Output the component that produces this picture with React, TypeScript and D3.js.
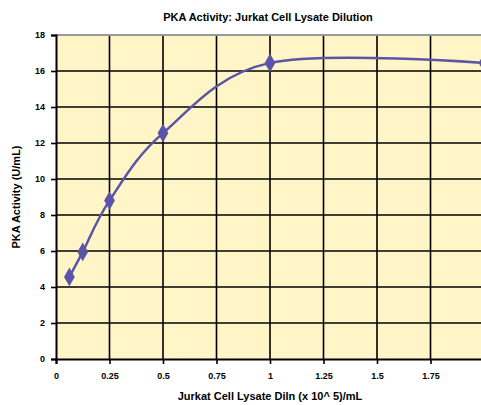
import React, { useEffect, useRef } from "react";
import * as d3 from "d3";

const dilutions = [0.0625, 0.125, 0.25, 0.5, 1, 2];
const activity = [4.56, 5.95, 8.8, 12.55, 16.45, 16.45];
const xTicks = [0, 0.25, 0.5, 0.75, 1, 1.25, 1.5, 1.75, 2];
const yTicks = [0, 2, 4, 6, 8, 10, 12, 14, 16, 18];

const App = () => {
  const svgRef = useRef<SVGSVGElement>(null);

  useEffect(() => {
    const width = 481;
    const height = 405;
    const margin = { top: 35, left: 56, bottom: 46 };
    const x = d3.scaleLinear().domain([0, 2]).range([margin.left, margin.left + 428]);
    const y = d3.scaleLinear().domain([0, 18]).range([height - margin.bottom, margin.top]);

    const svg = d3.select(svgRef.current).attr("width", width).attr("height", height);
    svg.selectAll("*").remove();

    const font = "Arial, 'Liberation Sans', sans-serif";

    // plot background
    svg.append("rect")
      .attr("x", x(0)).attr("y", y(18))
      .attr("width", x(2) - x(0)).attr("height", y(0) - y(18))
      .attr("fill", "#fff5c6");

    // grid
    svg.append("g").selectAll("line").data(xTicks.slice(1)).enter().append("line")
      .attr("x1", (d) => x(d)).attr("x2", (d) => x(d))
      .attr("y1", y(18)).attr("y2", y(0))
      .attr("stroke", "#000").attr("stroke-width", 1.6);
    svg.append("g").selectAll("line").data(yTicks.slice(1)).enter().append("line")
      .attr("x1", x(0)).attr("x2", x(2))
      .attr("y1", (d) => y(d)).attr("y2", (d) => y(d))
      .attr("stroke", (d) => (d === 18 ? "#999" : "#000"))
      .attr("stroke-width", (d) => (d === 18 ? 2 : 1.6));

    // axes
    const yAxis = svg.append("g")
      .attr("transform", `translate(${x(0)},0)`)
      .call(d3.axisLeft(y).tickValues(yTicks).tickSize(5).tickPadding(6).tickFormat(d3.format("d")));
    const xAxis = svg.append("g")
      .attr("transform", `translate(0,${y(0)})`)
      .call(d3.axisBottom(x).tickValues(xTicks).tickSize(5).tickPadding(9).tickFormat((d) => String(d)));
    [yAxis, xAxis].forEach((a) => {
      a.select(".domain").attr("stroke", "#000").attr("stroke-width", 2);
      a.selectAll(".tick line").attr("stroke", "#000").attr("stroke-width", 1.6);
      a.selectAll("text")
        .style("font-family", font)
        .style("font-size", "9px")
        .style("font-weight", "bold")
        .attr("fill", "#000");
    });

    // line
    const line = d3.line<number>()
      .x((_, i) => x(dilutions[i]))
      .y((d) => y(d))
      .curve(d3.curveCatmullRom.alpha(0));
    svg.append("path")
      .datum(activity)
      .attr("d", line)
      .attr("fill", "none")
      .attr("stroke", "#5b54a8")
      .attr("stroke-width", 2.5);

    const diamond = d3.symbol().type(d3.symbolDiamond).size(100);
    svg.append("g").selectAll("path").data(activity).enter().append("path")
      .attr("d", diamond)
      .attr("transform", (d, i) => `translate(${x(dilutions[i])},${y(d)})`)
      .attr("fill", "#5b54a8");

    // titles
    svg.append("text")
      .attr("x", 268).attr("y", 21)
      .attr("text-anchor", "middle")
      .style("font-family", font).style("font-size", "11px").style("font-weight", "bold")
      .text("PKA Activity: Jurkat Cell Lysate Dilution");
    svg.append("text")
      .attr("x", 270).attr("y", 400)
      .attr("text-anchor", "middle")
      .style("font-family", font).style("font-size", "11px").style("font-weight", "bold")
      .text("Jurkat Cell Lysate Diln (x 10^ 5)/mL");
    svg.append("text")
      .attr("transform", `translate(20,${(y(0) + y(18)) / 2}) rotate(-90)`)
      .attr("text-anchor", "middle")
      .style("font-family", font).style("font-size", "11px").style("font-weight", "bold")
      .text("PKA Activity (U/mL)");
  }, []);

  return (
    <div style={{ position: "absolute", left: 0, top: 0 }}>
      <svg ref={svgRef} style={{ display: "block" }}></svg>
    </div>
  );
};

export default App;
